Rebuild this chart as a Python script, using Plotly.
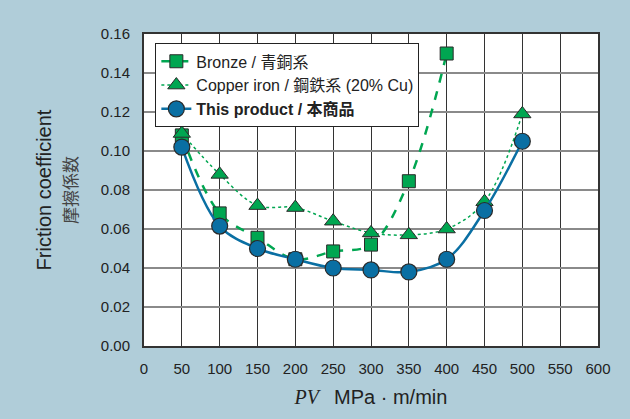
import plotly.graph_objects as go

# PV values (MPa*m/min)
pv = [50, 100, 150, 200, 250, 300, 350, 400, 450, 500]

bronze_x = [50, 100, 150, 200, 250, 300, 350, 400]
bronze_y = [0.108, 0.068, 0.0555, 0.0445, 0.0485, 0.052, 0.0845, 0.150]

copper_y = [0.109, 0.088, 0.072, 0.071, 0.064, 0.058, 0.057, 0.060, 0.074, 0.119]

product_y = [0.102, 0.0615, 0.050, 0.0445, 0.040, 0.039, 0.038, 0.0445, 0.0695, 0.105]

x_ticks = list(range(0, 601, 50))
y_ticks = [0.00, 0.02, 0.04, 0.06, 0.08, 0.10, 0.12, 0.14, 0.16]

GREEN = "#00a651"
BLUE = "#0a6fa3"
EDGE = "#2a2a2a"
BG = "#b0cdd9"
FONT = "Liberation Sans, Arial, Noto Sans CJK JP"

fig = go.Figure()

fig.add_trace(go.Scatter(
    x=bronze_x, y=bronze_y, name="Bronze / 青銅系",
    mode="lines+markers", line=dict(color=GREEN, width=2.5, dash="dash", shape="spline", smoothing=1.0),
    marker=dict(symbol="square", size=13, color=GREEN, line=dict(color=EDGE, width=1)),
))
fig.add_trace(go.Scatter(
    x=pv, y=copper_y, name="Copper iron / 鋼鉄系 (20% Cu)",
    mode="lines+markers", line=dict(color=GREEN, width=1.5, dash="dot", shape="spline", smoothing=1.0),
    marker=dict(symbol="triangle-up", size=15, color=GREEN, line=dict(color=EDGE, width=1)),
))
fig.add_trace(go.Scatter(
    x=pv, y=product_y, name="<b>This product / 本商品</b>",
    mode="lines+markers", line=dict(color=BLUE, width=2.5, shape="spline", smoothing=1.0),
    marker=dict(symbol="circle", size=16, color=BLUE, line=dict(color=EDGE, width=1.2)),
))

fig.update_layout(
    width=630, height=419,
    margin=dict(l=144, r=32, t=34, b=73),
    paper_bgcolor=BG, plot_bgcolor="white",
    font=dict(family=FONT, size=15, color="#222"),
    showlegend=True,
    legend=dict(
        x=0.025, y=0.97, xanchor="left", yanchor="top",
        bgcolor="white", bordercolor="#222", borderwidth=1,
        font=dict(size=16, color="#222"), tracegroupgap=0,
    ),
    xaxis=dict(
        range=[0, 600], tickvals=x_ticks, ticktext=[str(v) for v in x_ticks],
        showgrid=True, gridcolor="#333", gridwidth=1.1,
        showline=True, linecolor="#333", linewidth=2, mirror=True,
        ticks="", ticklabelstandoff=8, zeroline=False,
        title=dict(text="<i><span style='font-family:Liberation Serif;font-size:20px'>PV</span></i>"
                        "\u2002\u2005MPa · m/min",
                   font=dict(size=20), standoff=14),
    ),
    yaxis=dict(
        range=[0, 0.16], tickvals=y_ticks, tickformat=".2f",
        showgrid=True, gridcolor="#8a8a8a", gridwidth=2,
        showline=True, linecolor="#333", linewidth=2, mirror=True,
        ticks="", ticklabelstandoff=9, zeroline=False,
        title=dict(text="Friction coefficient<br><span style='font-size:17px;color:#444'>摩擦係数</span>",
                   font=dict(size=20), standoff=18),
    ),
)

fig.write_html("out.html", config={"displayModeBar": False},
               post_script="document.body.style.margin='0';")
